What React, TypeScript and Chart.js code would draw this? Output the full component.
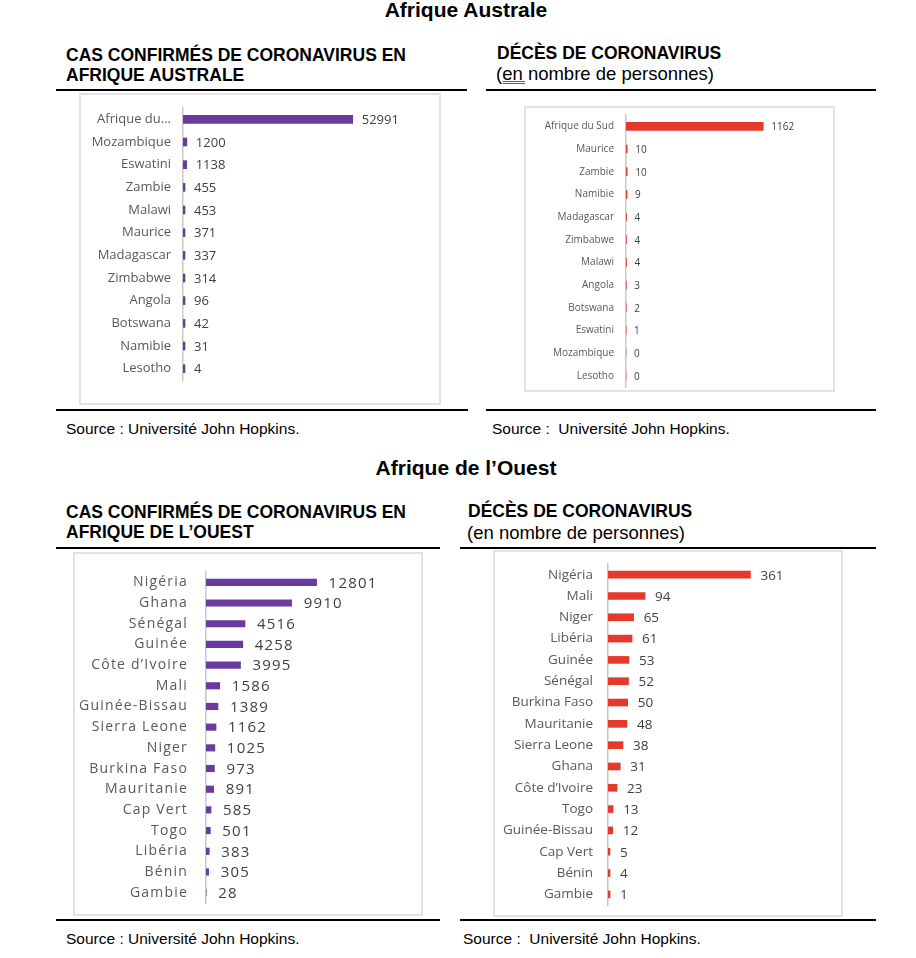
import React, { useEffect, useRef } from "react";
import { Chart, registerables } from "chart.js";

Chart.register(...registerables);

// ---------- DATA ----------
const australCasesCountries = ["Afrique du Sud", "Mozambique", "Eswatini", "Zambie", "Malawi", "Maurice", "Madagascar", "Zimbabwe", "Angola", "Botswana", "Namibie", "Lesotho"];
const australCasesValues = [52991, 1200, 1138, 455, 453, 371, 337, 314, 96, 42, 31, 4];

const australDeathsCountries = ["Afrique du Sud", "Maurice", "Zambie", "Namibie", "Madagascar", "Zimbabwe", "Malawi", "Angola", "Botswana", "Eswatini", "Mozambique", "Lesotho"];
const australDeathsValues = [1162, 10, 10, 9, 4, 4, 4, 3, 2, 1, 0, 0];

const westCasesCountries = ["Nigéria", "Ghana", "Sénégal", "Guinée", "Côte d’Ivoire", "Mali", "Guinée-Bissau", "Sierra Leone", "Niger", "Burkina Faso", "Mauritanie", "Cap Vert", "Togo", "Libéria", "Bénin", "Gambie"];
const westCasesValues = [12801, 9910, 4516, 4258, 3995, 1586, 1389, 1162, 1025, 973, 891, 585, 501, 383, 305, 28];

const westDeathsCountries = ["Nigéria", "Mali", "Niger", "Libéria", "Guinée", "Sénégal", "Burkina Faso", "Mauritanie", "Sierra Leone", "Ghana", "Côte d’Ivoire", "Togo", "Guinée-Bissau", "Cap Vert", "Bénin", "Gambie"];
const westDeathsValues = [361, 94, 65, 61, 53, 52, 50, 48, 38, 31, 23, 13, 12, 5, 4, 1];

const PURPLE = "#6B3A9E";
const RED = "#E5392B";
const LABEL_GRAY = "#595959";
const VALUE_GRAY = "#404040";
const CHART_FONT = '"Open Sans", "Noto Sans", sans-serif';
const TEXT_FONT = '"Liberation Sans", Arial, sans-serif';

type PanelProps = {
  left: number; top: number; width: number; height: number;
  labels: string[]; values: number[]; color: string;
  axisX: number; areaTop: number; areaBottom: number; areaRight: number;
  xMax: number; barThickness: number; tickSize: number; tickPad: number;
  valueSize: number; valueOffset: number; spacing: number; minBar: number;
  truncate?: number;
};

function BarPanel(p: PanelProps) {
  const ref = useRef<HTMLCanvasElement | null>(null);
  useEffect(() => {
    if (!ref.current) return;
    const spacingPlugin = {
      id: "spacing",
      beforeDraw(chart: any) {
        (chart.ctx as any).letterSpacing = p.spacing + "px";
      },
    };
    const valuePlugin = {
      id: "values",
      afterDatasetsDraw(chart: any) {
        const ctx = chart.ctx;
        const meta = chart.getDatasetMeta(0);
        const data = chart.data.datasets[0].data as number[];
        ctx.save();
        (ctx as any).letterSpacing = p.spacing + "px";
        ctx.font = `${p.valueSize}px ${CHART_FONT}`;
        ctx.fillStyle = VALUE_GRAY;
        ctx.textAlign = "left";
        ctx.textBaseline = "middle";
        meta.data.forEach((el: any, i: number) => {
          ctx.fillText(String(data[i]), el.x + p.valueOffset, el.y + 1);
        });
        ctx.restore();
      },
    };
    const chart = new Chart(ref.current, {
      type: "bar",
      data: {
        labels: p.labels,
        datasets: [{
          data: p.values,
          backgroundColor: p.color,
          borderWidth: 0,
          barThickness: p.barThickness,
          minBarLength: p.minBar,
        }],
      },
      options: {
        indexAxis: "y",
        animation: false,
        responsive: false,
        maintainAspectRatio: false,
        devicePixelRatio: 1,
        layout: {
          padding: { left: 0, top: p.areaTop, right: p.width - p.areaRight, bottom: p.height - p.areaBottom },
        },
        plugins: { legend: { display: false }, tooltip: { enabled: false }, title: { display: false } },
        scales: {
          x: { display: false, min: 0, max: p.xMax },
          y: {
            grid: { display: false, drawTicks: false },
            border: { display: true, color: "#c8c8c8", width: 1.5 },
            ticks: {
              color: LABEL_GRAY,
              padding: p.tickPad,
              font: { family: CHART_FONT, size: p.tickSize },
              autoSkip: false,
              callback: function (this: any, v: any) {
                const l = this.getLabelForValue(v) as string;
                if (p.truncate && l.length > p.truncate) return l.slice(0, p.truncate - 1) + "...";
                return l;
              },
            },
            afterFit: (scale: any) => {
              scale.width = p.axisX;
              scale.paddingTop = 0;
              scale.paddingBottom = 0;
              scale.paddingLeft = 0;
              scale.paddingRight = 0;
            },
          },
        },
      },
      plugins: [spacingPlugin, valuePlugin],
    } as any);
    return () => chart.destroy();
  }, []);
  return (
    <>
      <div style={{ position: "absolute", left: p.left, top: p.top, width: p.width, height: p.height, border: "2px solid #e2e2e2", boxSizing: "border-box" }} />
      <canvas ref={ref} width={p.width} height={p.height}
        style={{ position: "absolute", left: p.left, top: p.top, width: p.width, height: p.height }} />
    </>
  );
}

function Txt({ x, baseline, size, bold, children, width, align }: any) {
  const L = Math.round(size * 1.2);
  const top = baseline - ((L - 1.117 * size) / 2 + 0.905 * size);
  return (
    <div style={{
      position: "absolute", left: x, top, lineHeight: L + "px", fontSize: size,
      fontWeight: bold ? "bold" : "normal", whiteSpace: "pre", fontFamily: TEXT_FONT,
      width: width, textAlign: align || "left",
    }}>{children}</div>
  );
}

function Rule({ x1, x2, y }: any) {
  return <div style={{ position: "absolute", left: x1, top: y, width: x2 - x1, height: 2, background: "#000" }} />;
}

export default function App() {
  return (
    <div style={{ position: "absolute", left: 0, top: 0, width: 916, height: 958, background: "#fff", color: "#000", fontFamily: TEXT_FONT, overflow: "hidden" }}>
      {/* Section 1 */}
      <Txt x={316} width={300} align="center" baseline={17} size={21} bold>Afrique Australe</Txt>

      <Txt x={66} baseline={62} size={17.5} bold>CAS CONFIRMÉS DE CORONAVIRUS EN</Txt>
      <Txt x={66} baseline={81.5} size={17.5} bold>AFRIQUE AUSTRALE</Txt>
      <Rule x1={56} x2={467} y={89} />

      <Txt x={497} baseline={59.5} size={17.5} bold>DÉCÈS DE CORONAVIRUS</Txt>
      <Txt x={496} baseline={80} size={18.5}>(en nombre de personnes)</Txt>
      <div style={{ position: "absolute", left: 503, top: 81, width: 22, height: 1, borderTop: "1px solid #3b5bd6", borderBottom: "1px solid #3b5bd6" }} />
      <Rule x1={486} x2={876} y={89} />

      <BarPanel left={79} top={93} width={362} height={312}
        labels={australCasesCountries} values={australCasesValues} color={PURPLE}
        axisX={104} areaTop={15} areaBottom={287} areaRight={341} xMax={74000}
        barThickness={8} tickSize={13} tickPad={12} valueSize={13} valueOffset={9}
        spacing={0} minBar={2} truncate={11} />

      <BarPanel left={524} top={106} width={311} height={286}
        labels={australDeathsCountries} values={australDeathsValues} color={RED}
        axisX={102} areaTop={9} areaBottom={281} areaRight={291} xMax={1600}
        barThickness={8} tickSize={10} tickPad={12} valueSize={10} valueOffset={8}
        spacing={0} minBar={0} />

      <Rule x1={56} x2={468} y={409} />
      <Rule x1={486} x2={876} y={409} />
      <Txt x={66} baseline={434} size={15.5}>Source : Université John Hopkins.</Txt>
      <Txt x={492} baseline={434} size={15.5}>Source :  Université John Hopkins.</Txt>

      {/* Section 2 */}
      <Txt x={316} width={300} align="center" baseline={474.5} size={21} bold>Afrique de l’Ouest</Txt>

      <Txt x={66} baseline={519} size={17.5} bold>CAS CONFIRMÉS DE CORONAVIRUS EN</Txt>
      <Txt x={66} baseline={539} size={17.5} bold>AFRIQUE DE L’OUEST</Txt>
      <Rule x1={56} x2={440} y={547} />

      <Txt x={468} baseline={517.5} size={17.5} bold>DÉCÈS DE CORONAVIRUS</Txt>
      <Txt x={467} baseline={539} size={18.5}>(en nombre de personnes)</Txt>
      <Rule x1={460} x2={876} y={547} />

      <BarPanel left={73} top={552} width={350} height={364}
        labels={westCasesCountries} values={westCasesValues} color={PURPLE}
        axisX={133} areaTop={20} areaBottom={351} areaRight={330} xMax={22800}
        barThickness={6.5} tickSize={14} tickPad={18} valueSize={15} valueOffset={12}
        spacing={1.2} minBar={0} />

      <BarPanel left={493} top={550} width={350} height={367}
        labels={westDeathsCountries} values={westDeathsValues} color={RED}
        axisX={115} areaTop={14} areaBottom={355} areaRight={330} xMax={545}
        barThickness={7} tickSize={13.5} tickPad={15} valueSize={13.5} valueOffset={10}
        spacing={0} minBar={2} />

      <Rule x1={56} x2={440} y={919} />
      <Rule x1={460} x2={876} y={919} />
      <Txt x={66} baseline={943.5} size={15.5}>Source : Université John Hopkins.</Txt>
      <Txt x={463} baseline={943.5} size={15.5}>Source :  Université John Hopkins.</Txt>
    </div>
  );
}
